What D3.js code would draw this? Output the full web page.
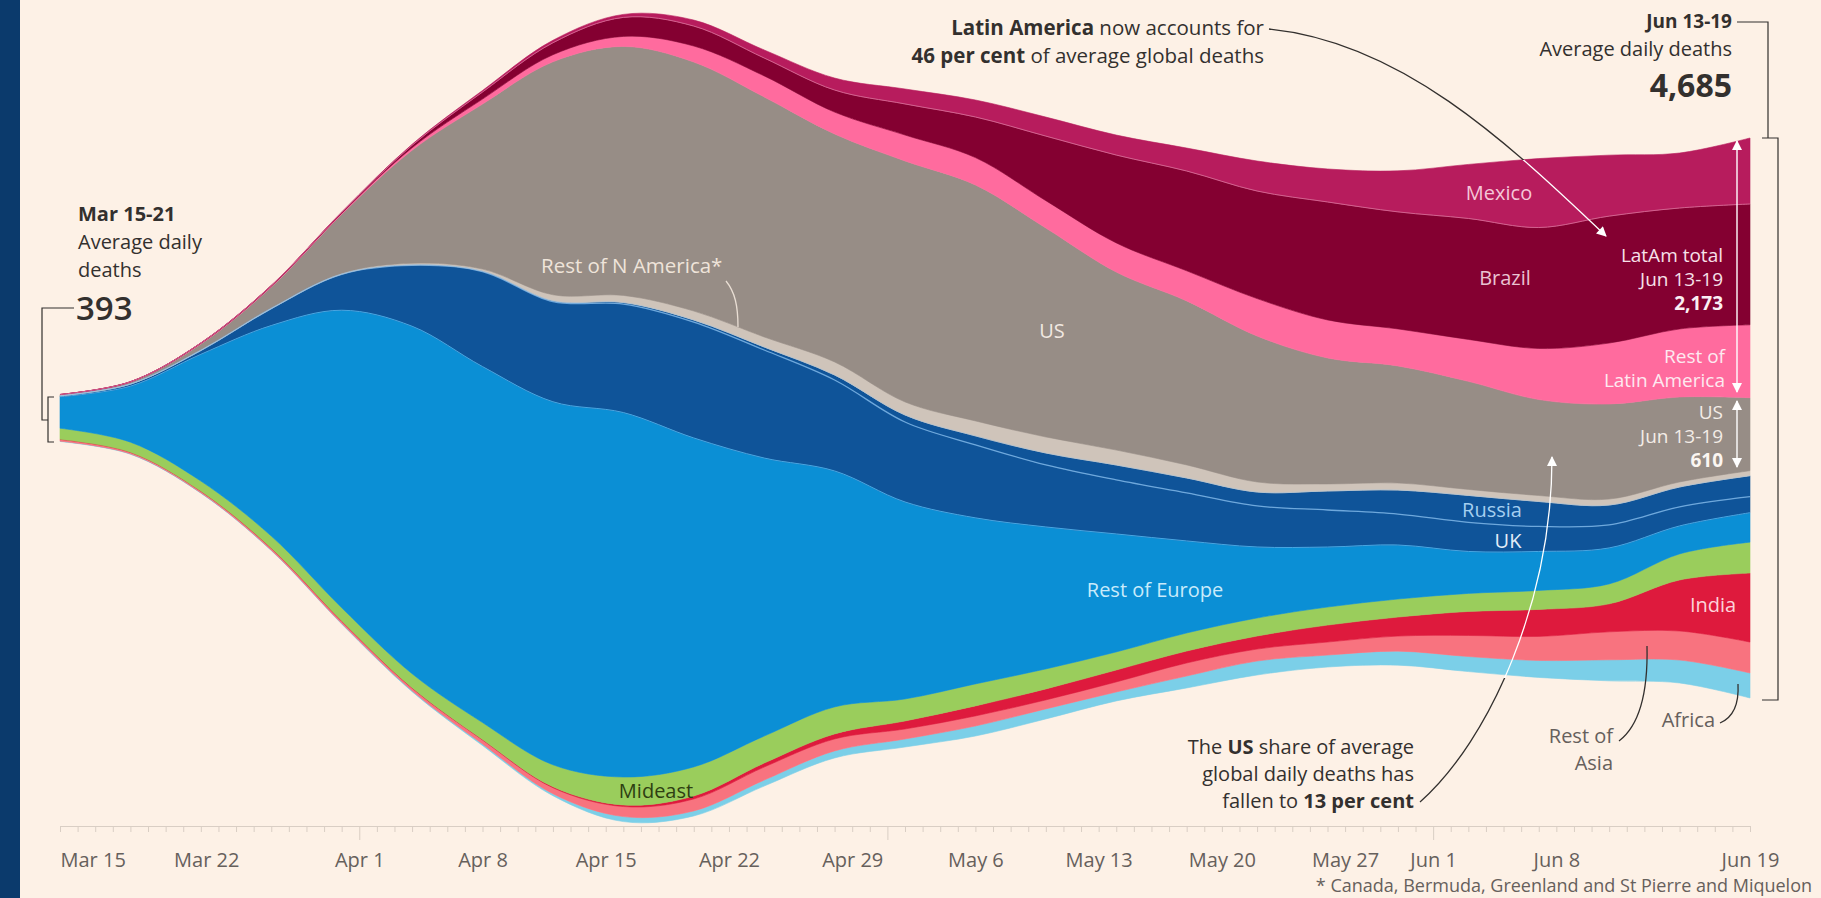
<!DOCTYPE html>
<html><head><meta charset="utf-8">
<script src="https://cdn.jsdelivr.net/npm/d3@7"></script>
<style>
html,body{margin:0;padding:0;background:#fdf1e6;}
svg{display:block;}
text{font-family:"Open Sans","Noto Sans",sans-serif;}
</style></head><body>
<svg id="c" width="1821" height="898"></svg>
<script>
// ---- data (7-day average daily deaths) ----
const dates = ["2020-03-15","2020-03-19","2020-03-23","2020-03-27","2020-03-31","2020-04-04","2020-04-08","2020-04-12","2020-04-16","2020-04-20","2020-04-24","2020-04-28","2020-05-02","2020-05-06","2020-05-10","2020-05-14","2020-05-18","2020-05-22","2020-05-26","2020-05-30","2020-06-03","2020-06-07","2020-06-11","2020-06-15","2020-06-19"];
const mexico     = [0,0,1,2,4,8,13,21,25,50,67,100,125,142,159,167,192,251,276,343,452,577,510,460,552];
const brazil     = [0,0,3,5,8,21,59,100,159,167,150,185,260,340,540,735,835,900,987,979,1012,1012,1062,1012,1011];
const restLatAm  = [2,3,6,7,8,21,42,59,84,134,176,183,217,229,229,244,252,313,318,310,351,427,510,569,610];
const us         = [8,15,50,176,494,945,1380,1949,2083,2083,2008,1907,2016,1974,1748,1489,1372,1221,1054,979,904,803,795,711,610];
const restNAm    = [1,1,3,4,6,13,17,50,59,75,84,109,109,125,134,125,109,84,59,59,50,50,50,42,42];
const russia     = [0,0,0,0,1,4,4,8,13,17,25,42,59,75,100,125,125,117,159,201,226,209,167,167,176];
const uk         = [8,18,33,142,301,510,795,837,908,970,904,761,669,611,519,452,402,343,310,259,243,209,192,159,134];
const restEurope = [263,468,1060,1761,2489,2907,2978,3037,3049,2752,2326,1974,1648,1389,1188,987,770,594,502,452,351,326,301,234,246];
const mideast    = [92,84,84,100,109,117,142,184,234,243,226,226,184,184,167,151,151,151,151,151,151,159,167,218,259];
const india      = [1,1,1,3,4,4,4,8,13,25,33,42,67,84,92,100,100,109,142,159,201,226,234,427,577];
const restAsia   = [15,13,13,15,17,21,33,50,84,100,109,100,84,84,75,84,109,100,109,126,176,201,234,243,259];
const africa     = [3,3,3,4,6,8,13,17,42,42,50,59,67,84,84,75,100,117,100,117,126,142,176,192,209];
const axisLabels = ["2020-03-15","2020-03-22","2020-04-01","2020-04-08","2020-04-15","2020-04-22","2020-04-29","2020-05-06","2020-05-13","2020-05-20","2020-05-27","2020-06-01","2020-06-08","2020-06-19"];

const keys = ["africa","restAsia","india","mideast","restEurope","uk","russia","restNAm","us","restLatAm","brazil","mexico"];
const valuesByKey = {africa,restAsia,india,mideast,restEurope,uk,russia,restNAm,us,restLatAm,brazil,mexico};
const colors = {africa:"#7bcfe8",restAsia:"#f8737f",india:"#de1a3d",mideast:"#9acd5c",restEurope:"#0b8fd5",
  uk:"#0f5499",russia:"#0f5499",restNAm:"#cfc4ba",us:"#978d86",restLatAm:"#ff6b9e",brazil:"#840031",mexico:"#b71c5d"};

const pd = s => new Date(s+"T00:00:00Z");
const table = dates.map((d,i)=>{const o={date:pd(d)}; keys.forEach(k=>o[k]=valuesByKey[k][i]); return o;});

const svg = d3.select("#c");
svg.append("rect").attr("width",1821).attr("height",898).attr("fill","#fdf1e6");
svg.append("rect").attr("width",20).attr("height",898).attr("fill","#0b3a6c");

const x = d3.scaleUtc().domain([pd("2020-03-15"),pd("2020-06-19")]).range([60,1750]);
const K = 0.11953, CY = 418;
const y = d3.scaleLinear().domain([-3500,3500]).range([CY+3500*K, CY-3500*K]);

const stacked = d3.stack().keys(keys).offset(d3.stackOffsetSilhouette).order(d3.stackOrderNone)(table);
const curve = d3.curveCatmullRom.alpha(0.5);
const area = d3.area().x(d=>x(d.data.date)).y0(d=>y(d[0])).y1(d=>y(d[1])).curve(curve);
const topLine = d3.line().x(d=>x(d.data.date)).y(d=>y(d[1])).curve(curve);

svg.append("g").selectAll("path").data(stacked).join("path")
  .attr("d",area).attr("fill",d=>colors[d.key]).attr("stroke",d=>colors[d.key]).attr("stroke-width",0.6);

const sepStyle = {uk:["#6ea8dc",1.3], restEurope:["#47a6e2",1], brazil:["#d2628f",1], russia:["#b9c6d2",0.8]};
svg.append("g").selectAll("path").data(stacked.filter(s=>sepStyle[s.key])).join("path")
  .attr("d",topLine).attr("fill","none")
  .attr("stroke",d=>sepStyle[d.key][0]).attr("stroke-width",d=>sepStyle[d.key][1]);

// ---- axis ----
const axisY = 826;
const gMinor = svg.append("g").attr("transform",`translate(0,${axisY})`)
  .call(d3.axisBottom(x).ticks(d3.utcDay.every(1)).tickSize(6).tickSizeOuter(0).tickFormat(""));
gMinor.select(".domain").attr("stroke","#d9cec4");
gMinor.selectAll(".tick line").attr("stroke","#d9cec4")
  .attr("y2",d=>d.getUTCDate()===1?14:6);
const gLab = svg.append("g").attr("transform",`translate(0,${axisY})`)
  .call(d3.axisBottom(x).tickValues(axisLabels.map(pd)).tickSize(0).tickPadding(27).tickFormat(d3.utcFormat("%b %-d")));
gLab.select(".domain").remove();
gLab.selectAll("text").attr("font-size",20).attr("fill","#66605c").attr("font-family","Open Sans");
gLab.selectAll(".tick").filter((d,i)=>i===0).select("text").attr("text-anchor","start");
gLab.selectAll(".tick").filter((d,i)=>i===1).select("text").attr("dx",23);

// ---- text helpers ----
function txt(xp,yp,str,opt={}){
  const t = svg.append("text").attr("x",xp).attr("y",yp)
    .attr("font-size",opt.size||20).attr("fill",opt.fill||"#33302e")
    .attr("text-anchor",opt.anchor||"start").attr("font-weight",opt.weight||400);
  if(Array.isArray(str)){ str.forEach(p=>t.append("tspan").attr("font-weight",p[1]?700:400).text(p[0])); }
  else t.text(str);
  return t;
}

// defs
const defs = svg.append("defs");
defs.append("marker").attr("id","ahW").attr("viewBox","0 0 10 10").attr("refX",9).attr("refY",5)
  .attr("markerWidth",11).attr("markerHeight",10).attr("markerUnits","userSpaceOnUse")
  .attr("orient","auto-start-reverse").append("path").attr("d","M0,0 L10,5 L0,10 z").attr("fill","#fff");
defs.append("clipPath").attr("id","cTop").append("rect").attr("x",0).attr("y",0).attr("width",1821).attr("height",160);
defs.append("clipPath").attr("id","cBot").append("rect").attr("x",0).attr("y",160).attr("width",1821).attr("height",740);
defs.append("clipPath").attr("id","cUp").append("rect").attr("x",0).attr("y",0).attr("width",1821).attr("height",678);
defs.append("clipPath").attr("id","cDn").append("rect").attr("x",0).attr("y",678).attr("width",1821).attr("height",240);

// left annotation
txt(78,221,"Mar 15-21",{size:20,weight:700});
txt(78,249,"Average daily",{size:20});
txt(78,277,"deaths",{size:20});
txt(76,320,"393",{size:33,weight:600});
const brk = svg.append("g").attr("fill","none").attr("stroke","#33302e").attr("stroke-width",1.2);
brk.append("path").attr("d","M74,308 H42 V420 H48 M54,397 H48 V442 H54");

// right annotation
txt(1732,28,"Jun 13-19",{size:19,weight:700,anchor:"end"});
txt(1732,56,"Average daily deaths",{size:20,anchor:"end"});
txt(1732,97,"4,685",{size:32,weight:700,anchor:"end"});
brk.append("path").attr("d","M1737,22 H1768 V138 M1762,138 H1778 V700 H1762");

// Latin America annotation
txt(1264,35,[["Latin America",1],[" now accounts for",0]],{size:20.5,anchor:"end"});
txt(1264,63,[["46 per cent",1],[" of average global deaths",0]],{size:20.5,anchor:"end"});
const laPath = "M1269,29 C1400,42 1505,140 1606,236";
svg.append("path").attr("d",laPath).attr("fill","none").attr("stroke","#33302e").attr("stroke-width",1.3).attr("clip-path","url(#cTop)");
svg.append("path").attr("d",laPath).attr("fill","none").attr("stroke","#fff").attr("stroke-width",1.3).attr("clip-path","url(#cBot)").attr("marker-end","url(#ahW)");

// US share annotation
txt(1414,754,[["The ",0],["US",1],[" share of average",0]],{size:20,anchor:"end"});
txt(1414,781,"global daily deaths has",{size:20,anchor:"end"});
txt(1414,808,[["fallen to ",0],["13 per cent",1]],{size:20,anchor:"end"});
const usPath = "M1420,802 C1490,740 1552,600 1552,457";
svg.append("path").attr("d",usPath).attr("fill","none").attr("stroke","#33302e").attr("stroke-width",1.3).attr("clip-path","url(#cDn)");
svg.append("path").attr("d",usPath).attr("fill","none").attr("stroke","#fff").attr("stroke-width",1.3).attr("clip-path","url(#cUp)").attr("marker-end","url(#ahW)");

// stream labels
txt(541,273,"Rest of N America*",{size:20.5,fill:"#efe4da"});
svg.append("path").attr("d","M726,281 C735,292 738,306 738,327").attr("fill","none").attr("stroke","#e9ded4").attr("stroke-width",1.3);
txt(1052,338,"US",{size:20,fill:"#f1e8e1",anchor:"middle"});
txt(1499,200,"Mexico",{size:20,fill:"#f5c6d8",anchor:"middle"});
txt(1505,285,"Brazil",{size:20,fill:"#eac3d2",anchor:"middle"});
txt(1723,262,"LatAm total",{size:19,fill:"#f7e1e9",anchor:"end"});
txt(1723,286,"Jun 13-19",{size:19,fill:"#f7e1e9",anchor:"end"});
txt(1723,310,"2,173",{size:19,fill:"#fbeef3",anchor:"end",weight:700});
txt(1725,363,"Rest of",{size:19,fill:"#fde9f0",anchor:"end"});
txt(1725,387,"Latin America",{size:19,fill:"#fde9f0",anchor:"end"});
txt(1723,419,"US",{size:19,fill:"#f3ece6",anchor:"end"});
txt(1723,443,"Jun 13-19",{size:19,fill:"#f3ece6",anchor:"end"});
txt(1723,467,"610",{size:19,fill:"#fbf6f2",anchor:"end",weight:700});
const dbl = svg.append("g").attr("stroke","#fff").attr("stroke-width",1.4).attr("fill","none");
dbl.append("line").attr("x1",1737).attr("x2",1737).attr("y1",141).attr("y2",392).attr("marker-start","url(#ahW)").attr("marker-end","url(#ahW)");
dbl.append("line").attr("x1",1737).attr("x2",1737).attr("y1",401).attr("y2",467).attr("marker-start","url(#ahW)").attr("marker-end","url(#ahW)");
txt(1492,517,"Russia",{size:20,fill:"#a4cff0",anchor:"middle"});
txt(1508,548,"UK",{size:20,fill:"#e3eef8",anchor:"middle"});
txt(1155,597,"Rest of Europe",{size:20,fill:"#c9ebfb",anchor:"middle"});
txt(656,798,"Mideast",{size:20,fill:"#2e3f12",anchor:"middle"});
txt(1713,612,"India",{size:20,fill:"#fcd3da",anchor:"middle"});
txt(1613,743,"Rest of",{size:20,fill:"#66605c",anchor:"end"});
txt(1613,770,"Asia",{size:20,fill:"#66605c",anchor:"end"});
txt(1715,727,"Africa",{size:20,fill:"#66605c",anchor:"end"});
const lead = svg.append("g").attr("fill","none").attr("stroke","#33302e").attr("stroke-width",1.3);
lead.append("path").attr("d","M1619,741 C1640,725 1648,690 1647,646");
lead.append("path").attr("d","M1720,723 C1734,717 1739,702 1738,684");

// footnote
txt(1812,892,"* Canada, Bermuda, Greenland and St Pierre and Miquelon",{size:18,fill:"#66605c",anchor:"end"});
</script>
</body></html>
